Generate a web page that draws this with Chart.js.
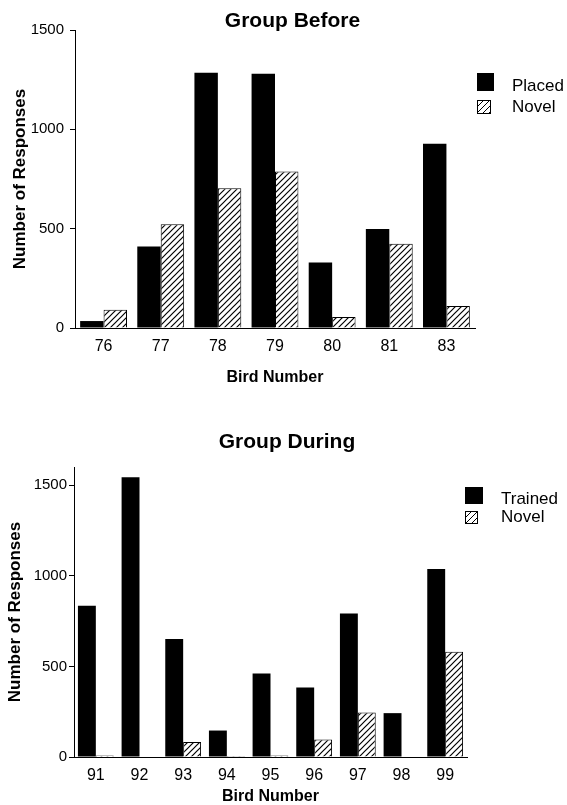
<!DOCTYPE html>
<html>
<head>
<meta charset="utf-8">
<script src="https://cdn.jsdelivr.net/npm/chart.js@4.4.1/dist/chart.umd.min.js"></script>
<style>
  html, body { margin: 0; padding: 0; background: #fff; overflow: hidden; }
  body { width: 567px; height: 805px; position: relative; font-family: 'Liberation Sans', Arial, sans-serif; color: #000; }
  .panel { position: absolute; left: 0; width: 567px; }
  .panel canvas { position: absolute; left: 0; top: 0; }
  .title { position: absolute; left: 0; text-align: center; font-weight: bold; font-size: 21px; line-height: 21px; white-space: nowrap; }
  .swatch { position: absolute; box-sizing: border-box; }
  .swatch.solid { background: #000; }
  .swatch.hatch { border: 1px solid #000; background: repeating-linear-gradient(135deg, #fff 0 3px, #000 3px 4.2px); }
  .legend-text { position: absolute; font-size: 17px; line-height: 17px; white-space: nowrap; }
</style>
</head>
<body>
<div class="panel" id="panelBefore" style="top:0;height:390px">
  <canvas id="beforeChart" width="567" height="390"></canvas>
  <div class="title" style="top:9px;width:585px">Group Before</div>
</div>
<div class="panel" id="panelDuring" style="top:390px;height:415px">
  <canvas id="duringChart" width="567" height="415"></canvas>
  <div class="title" style="top:40px;width:574px">Group During</div>
</div>
<script>
// ─── Data ───
const beforeBirds = ['76', '77', '78', '79', '80', '81', '83'];
const beforePlaced = [35, 410, 1285, 1280, 330, 498, 928];
const beforeNovel = [92, 522, 703, 788, 55, 424, 111];

const duringBirds = ['91', '92', '93', '94', '95', '96', '97', '98', '99'];
const duringTrained = [834, 1544, 651, 146, 461, 384, 792, 242, 1037];
const duringNovel = [8, 3, 83, 5, 8, 96, 245, 0, 581];

const yTickValues = [0, 500, 1000, 1500];
const beforeSeries = ['Placed', 'Novel'];
const duringSeries = ['Trained', 'Novel'];

const FONT = "'Liberation Sans', Arial, sans-serif";

// ─── Hatch pattern for the "Novel" bars ───
function makeHatch() {
    const s = 6;
    const c = document.createElement('canvas');
    c.width = s; c.height = s;
    const g = c.getContext('2d');
    g.fillStyle = '#fff';
    g.fillRect(0, 0, s, s);
    g.strokeStyle = '#000';
    g.lineWidth = 1.2;
    g.beginPath();
    g.moveTo(0, s); g.lineTo(s, 0);
    g.moveTo(-1, 1); g.lineTo(1, -1);
    g.moveTo(s - 1, s + 1); g.lineTo(s + 1, s - 1);
    g.stroke();
    return g.createPattern(c, 'repeat');
}
const hatch = makeHatch();

// ─── Chart builder ───
function buildChart(canvasId, cfg) {
    return new Chart(document.getElementById(canvasId), {
        type: 'bar',
        data: {
            labels: cfg.labels,
            datasets: [
                { label: cfg.series[0], data: cfg.solid, backgroundColor: '#000', borderWidth: 0 },
                { label: cfg.series[1], data: cfg.hatched, backgroundColor: hatch, borderColor: '#000', borderWidth: 1 }
            ]
        },
        options: {
            responsive: false,
            animation: false,
            devicePixelRatio: 1,
            categoryPercentage: 0.82,
            barPercentage: 1.0,
            layout: { padding: { top: cfg.top, right: cfg.right, left: 0, bottom: 0 } },
            plugins: {
                legend: { display: false },
                title: { display: false },
                tooltip: { enabled: false }
            },
            scales: {
                x: {
                    grid: { display: false, drawTicks: false },
                    border: { display: true, color: '#000', width: 1 },
                    ticks: { color: '#000', padding: 9, font: { family: FONT, size: 16 } },
                    title: {
                        display: true, text: 'Bird Number', color: '#000',
                        font: { family: FONT, size: 16, weight: 'bold', lineHeight: 1 },
                        padding: { top: 0, bottom: cfg.xTitlePad }
                    },
                    afterFit: (s) => { s.height = cfg.xHeight; }
                },
                y: {
                    min: 0,
                    max: cfg.yMax,
                    grid: { display: true, drawOnChartArea: false, drawTicks: true, tickLength: 5, color: '#000' },
                    border: { display: true, color: '#000', width: 1 },
                    ticks: {
                        color: '#000', padding: cfg.yTickPad,
                        font: { family: FONT, size: cfg.yTickSize },
                        callback: (v) => String(v)
                    },
                    afterBuildTicks: (s) => { s.ticks = yTickValues.map(v => ({ value: v })); },
                    title: {
                        display: true, text: 'Number of Responses', color: '#000',
                        font: { family: FONT, size: 17, weight: 'bold' },
                        padding: { top: cfg.yTitlePad, bottom: 0 }
                    },
                    afterFit: (s) => { s.width = cfg.yWidth; }
                }
            }
        }
    });
}

// ─── HTML legend ───
function buildLegend(panelId, names, rows) {
    const panel = document.getElementById(panelId);
    names.forEach((name, i) => {
        const r = rows[i];
        const sw = document.createElement('div');
        sw.className = 'swatch ' + (i === 0 ? 'solid' : 'hatch');
        sw.style.cssText = `left:${r.x}px;top:${r.y}px;width:${r.w}px;height:${r.h}px`;
        panel.appendChild(sw);
        const tx = document.createElement('div');
        tx.className = 'legend-text';
        tx.textContent = name;
        tx.style.cssText = `left:${r.tx}px;top:${r.ty}px`;
        panel.appendChild(tx);
    });
}

buildChart('beforeChart', {
    labels: beforeBirds, series: beforeSeries, solid: beforePlaced, hatched: beforeNovel,
    top: 30, right: 92, yMax: 1500, yWidth: 75, xHeight: 62, xTitlePad: 4,
    yTickPad: 6, yTickSize: 15, yTitlePad: 10
});
buildChart('duringChart', {
    labels: duringBirds, series: duringSeries, solid: duringTrained, hatched: duringNovel,
    top: 77, right: 100, yMax: 1600, yWidth: 74, xHeight: 48, xTitlePad: 0,
    yTickPad: 2, yTickSize: 15, yTitlePad: 5
});

buildLegend('panelBefore', beforeSeries, [
    { x: 477, y: 73, w: 17, h: 18, tx: 512, ty: 77 },
    { x: 477, y: 100, w: 14, h: 14, tx: 512, ty: 98 }
]);
buildLegend('panelDuring', duringSeries, [
    { x: 465, y: 97, w: 18, h: 17, tx: 501, ty: 100 },
    { x: 465, y: 121, w: 13, h: 13, tx: 501, ty: 118 }
]);
</script>
</body>
</html>
